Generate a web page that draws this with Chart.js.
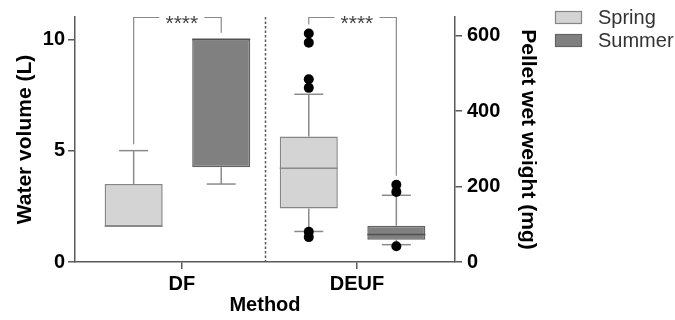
<!DOCTYPE html>
<html>
<head>
<meta charset="utf-8">
<script src="https://cdn.jsdelivr.net/npm/chart.js@4.4.0/dist/chart.umd.min.js"></script>
<style>
  html, body { margin: 0; padding: 0; background: #fff; }
</style>
</head>
<body>
<canvas id="chart" width="675" height="320"></canvas>
<script>
// groups on the x axis and the season inside each group
const methods = ['DF', 'DEUF'];
const seasons = ['Spring', 'Summer'];
const methodAxis = ['y', 'y2'];      // DF -> water volume (L), DEUF -> pellet wet weight (mg)
const methodTickPos = [0.55, 2.55];  // where the group label sits

// box plot stats, [method][season]
const whiskerLow  = [[1.6, 3.5], [81, 46]];
const quart1      = [[1.6, 4.25], [142, 59]];
const medians     = [[1.6, 10], [249, 73]];
const quart3      = [[3.5, 10], [333, 96]];
const whiskerHigh = [[5.0, 10], [445, 177]];
const outliers    = [[[], []], [[606, 582, 485, 462, 80, 66], [205, 186, 42]]];

const leftTicks = [0, 5, 10];
const rightTicks = [0, 200, 400, 600];
const sigLabels = ['****', '****'];

const seasonFill = ['#d4d4d4', '#808080'];
const seasonBorder = ['#858585', '#636363'];
const medianColor = ['#8a8a8a', '#505050'];
const whiskerColor = '#8a8a8a';
const axisColor = '#5a5a5a';
const fontFamily = 'Liberation Sans, Arial, sans-serif';
const tickFont = { family: fontFamily, size: 20, weight: 'bold' };
const titleFont = { family: fontFamily, size: 21, weight: 'bold' };

const boxPos = (mi, si) => mi * 2 + si;

const datasets = [];
methods.forEach((m, mi) => {
  seasons.forEach((s, si) => {
    datasets.push({
      type: 'bar',
      label: s,
      yAxisID: methodAxis[mi],
      data: [{ x: boxPos(mi, si), y: [quart1[mi][si], quart3[mi][si]] }],
      backgroundColor: seasonFill[si],
      borderColor: seasonBorder[si],
      borderWidth: 1.5,
      borderSkipped: false,
      grouped: false,
      barPercentage: 0.663,
      categoryPercentage: 1,
      box: { mi, si }
    });
  });
});
methods.forEach((m, mi) => {
  seasons.forEach((s, si) => {
    if (!outliers[mi][si].length) return;
    datasets.push({
      type: 'scatter',
      label: s + ' outliers',
      yAxisID: methodAxis[mi],
      data: outliers[mi][si].map(v => ({ x: boxPos(mi, si), y: v })),
      pointRadius: 5,
      pointBackgroundColor: '#000',
      pointBorderWidth: 0
    });
  });
});

function line(ctx, x1, y1, x2, y2) {
  ctx.beginPath();
  ctx.moveTo(x1, y1);
  ctx.lineTo(x2, y2);
  ctx.stroke();
}

const boxExtras = {
  id: 'boxExtras',
  beforeDatasetsDraw(chart) {
    const ctx = chart.ctx;
    const xs = chart.scales.x;
    const area = chart.chartArea;
    ctx.save();
    // dotted divider between the two methods
    ctx.strokeStyle = axisColor;
    ctx.lineWidth = 1.5;
    ctx.setLineDash([2.5, 2]);
    const dx = Math.round(xs.getPixelForValue(1.5)) + 0.5;
    line(ctx, dx, area.top, dx, area.bottom);
    ctx.setLineDash([]);

    // whiskers and caps
    ctx.strokeStyle = whiskerColor;
    chart.data.datasets.forEach((ds, i) => {
      if (!ds.box) return;
      const { mi, si } = ds.box;
      const ys = chart.scales[methodAxis[mi]];
      const bar = chart.getDatasetMeta(i).data[0];
      const cx = bar.x;
      const half = bar.width / 4;
      const yq1 = ys.getPixelForValue(quart1[mi][si]);
      const yq3 = ys.getPixelForValue(quart3[mi][si]);
      const yHi = ys.getPixelForValue(whiskerHigh[mi][si]);
      const yLo = ys.getPixelForValue(whiskerLow[mi][si]);
      if (whiskerHigh[mi][si] > quart3[mi][si]) {
        line(ctx, cx, yq3, cx, yHi);
        line(ctx, cx - half, yHi, cx + half, yHi);
      }
      if (whiskerLow[mi][si] < quart1[mi][si]) {
        line(ctx, cx, yq1, cx, yLo);
        line(ctx, cx - half, yLo, cx + half, yLo);
      }
    });
    ctx.restore();
  },
  afterDatasetsDraw(chart) {
    const ctx = chart.ctx;
    const xs = chart.scales.x;
    const area = chart.chartArea;
    ctx.save();
    // median lines
    chart.data.datasets.forEach((ds, i) => {
      if (!ds.box) return;
      const { mi, si } = ds.box;
      const ys = chart.scales[methodAxis[mi]];
      const bar = chart.getDatasetMeta(i).data[0];
      const ym = ys.getPixelForValue(medians[mi][si]);
      ctx.strokeStyle = medianColor[si];
      ctx.lineWidth = 1.5;
      line(ctx, bar.x - bar.width / 2, ym, bar.x + bar.width / 2, ym);
    });

    // significance brackets
    const topY = area.top + 0.5;
    ctx.strokeStyle = whiskerColor;
    ctx.lineWidth = 1.2;
    ctx.font = '21px ' + fontFamily;
    ctx.fillStyle = '#444';
    ctx.textAlign = 'center';
    ctx.textBaseline = 'alphabetic';
    methods.forEach((m, mi) => {
      const ys = chart.scales[methodAxis[mi]];
      const legs = seasons.map((s, si) => {
        const top = Math.max(whiskerHigh[mi][si], quart3[mi][si]);
        let y = ys.getPixelForValue(top) - 6.5;
        if (outliers[mi][si].length) {
          const o = Math.max(...outliers[mi][si]);
          y = Math.min(y, ys.getPixelForValue(o) - 9);
        }
        return { x: xs.getPixelForValue(boxPos(mi, si)), y };
      });
      const tx = xs.getPixelForValue(methodTickPos[mi]);
      const gap = 22.5;
      ctx.beginPath();
      ctx.moveTo(legs[0].x, legs[0].y);
      ctx.lineTo(legs[0].x, topY);
      ctx.lineTo(tx - gap, topY);
      ctx.moveTo(tx + gap, topY);
      ctx.lineTo(legs[1].x, topY);
      ctx.lineTo(legs[1].x, legs[1].y);
      ctx.stroke();
      ctx.fillText(sigLabels[mi], tx, topY + 12.3);
    });
    ctx.restore();
  },
  afterDraw(chart) {
    // legend
    const ctx = chart.ctx;
    const lx = chart.chartArea.right + 100;
    ctx.save();
    ctx.font = '20px ' + fontFamily;
    ctx.textBaseline = 'middle';
    ctx.textAlign = 'left';
    seasons.forEach((s, si) => {
      const cy = 17.5 + si * 23;
      ctx.fillStyle = seasonFill[si];
      ctx.fillRect(lx, cy - 6.5, 27, 13);
      ctx.strokeStyle = seasonBorder[si];
      ctx.lineWidth = 1.2;
      ctx.strokeRect(lx + 0.5, cy - 6, 26, 12);
      ctx.fillStyle = '#333';
      ctx.fillText(s, lx + 43, cy + 1);
    });
    ctx.restore();
  }
};

const axisCommon = {
  grid: { drawOnChartArea: false, offset: false, tickLength: 7, color: axisColor, lineWidth: 1.5 },
  border: { color: axisColor, width: 1.5 }
};

new Chart(document.getElementById('chart').getContext('2d'), {
  type: 'bar',
  data: { datasets },
  options: {
    responsive: false,
    animation: false,
    layout: { padding: { top: 9, right: 135, bottom: 0, left: 0 } },
    plugins: { legend: { display: false }, tooltip: { enabled: false } },
    scales: {
      x: {
        ...axisCommon,
        type: 'linear',
        offset: false,
        min: -0.67,
        max: 3.67,
        afterBuildTicks: sc => { sc.ticks = methodTickPos.map(v => ({ value: v })); },
        afterFit: sc => { sc.height = 58; },
        ticks: { callback: (v, i) => methods[i], font: tickFont, color: '#000', padding: 3, autoSkip: false, maxRotation: 0 },
        title: { display: true, text: 'Method', font: tickFont, color: '#000', padding: { top: 0, bottom: 3 } }
      },
      y: {
        ...axisCommon,
        type: 'linear',
        position: 'left',
        min: 0,
        max: 11,
        afterBuildTicks: sc => { sc.ticks = leftTicks.map(v => ({ value: v })); },
        afterFit: sc => { sc.width = 75; },
        ticks: { font: tickFont, color: '#000', padding: 3 },
        title: { display: true, text: 'Water volume (L)', font: titleFont, color: '#000', padding: { top: 12.4, bottom: 0 } }
      },
      y2: {
        ...axisCommon,
        type: 'linear',
        position: 'right',
        min: 0,
        max: 650,
        afterBuildTicks: sc => { sc.ticks = rightTicks.map(v => ({ value: v })); },
        afterFit: sc => { sc.width = 85; },
        ticks: { font: tickFont, color: '#000', padding: 5 },
        title: { display: true, text: 'Pellet wet weight (mg)', font: titleFont, color: '#000', padding: { top: 0, bottom: 0 } }
      }
    }
  },
  plugins: [boxExtras]
});
</script>
</body>
</html>
